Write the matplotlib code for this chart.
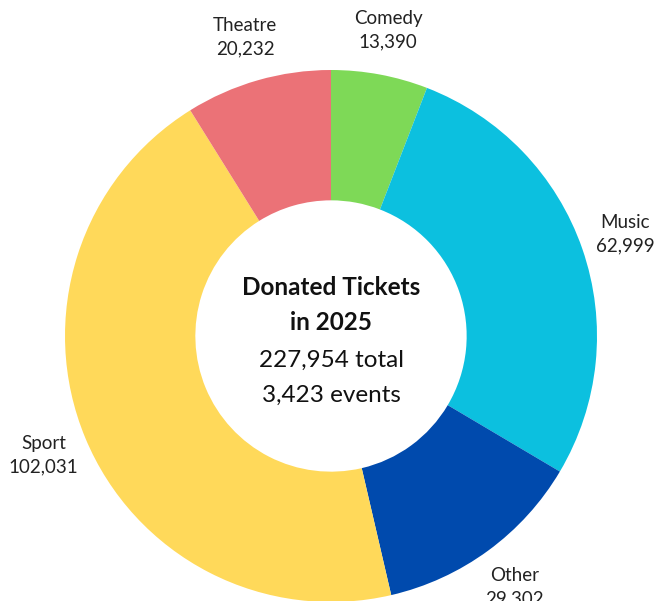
import matplotlib.pyplot as plt

plt.rcParams['font.family'] = ['Lato', 'DejaVu Sans']

categories = ['Comedy', 'Music', 'Other', 'Sport', 'Theatre']
tickets = [13390, 62999, 29302, 102031, 20232]
colors = ['#7ED957', '#0CC0DF', '#004AAD', '#FFD95A', '#EB7277']
events = 3423
year = 2025

labels = [f'{c}\n{v:,}' for c, v in zip(categories, tickets)]

fig = plt.figure(figsize=(6.69, 6.01), dpi=100)
ax = fig.add_axes([0, 0, 1, 1])

wedges, texts = ax.pie(tickets, colors=colors, labels=labels, startangle=90,
                       counterclock=False, labeldistance=1.17,
                       wedgeprops=dict(width=0.49, linewidth=0),
                       textprops=dict(fontsize=13.5, color='#222222',
                                      linespacing=1.45))
for t in texts:
    t.set_ha('center')
    t.set_va('center')

total = sum(tickets)
center_lines = [f'Donated Tickets', f'in {year}', f'{total:,} total', f'{events:,} events']
weights = ['bold', 'bold', 'normal', 'normal']
ys = [0.184, 0.049, -0.09, -0.222]
for s, w, y in zip(center_lines, weights, ys):
    ax.text(0, y, s, ha='center', va='center', fontsize=17.5,
            fontweight=w, color='#111111')

# pixel-matched limits: center at (331, 336), radius 266 px
r = 266
ax.set_xlim(-331 / r, (669 - 331) / r)
ax.set_ylim(-(601 - 336) / r, 336 / r)
ax.set_aspect('auto')
ax.axis('off')

fig.savefig('out.png', dpi=100, facecolor='white')
